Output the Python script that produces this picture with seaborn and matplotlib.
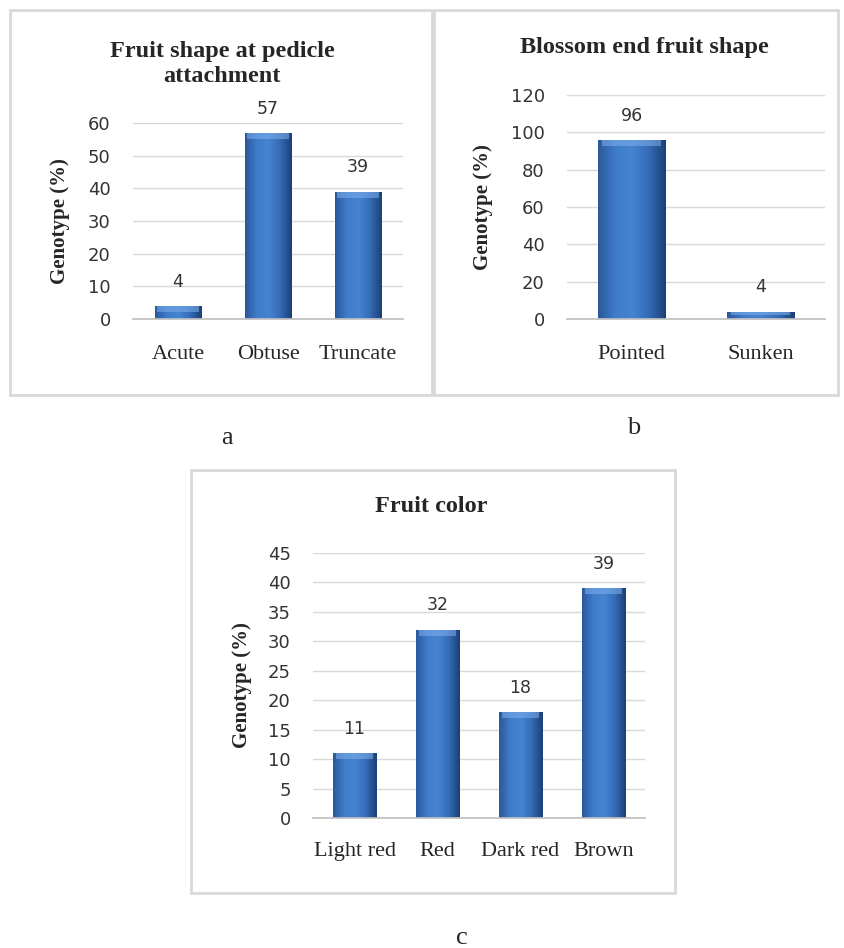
import numpy as np
import pandas as pd
import matplotlib.pyplot as plt
import seaborn as sns
from matplotlib.colors import LinearSegmentedColormap
from matplotlib.patches import Rectangle

# data
pedicle_cats = ['Acute', 'Obtuse', 'Truncate']
pedicle_vals = [4, 57, 39]
blossom_cats = ['Pointed', 'Sunken']
blossom_vals = [96, 4]
color_cats = ['Light red', 'Red', 'Dark red', 'Brown']
color_vals = [11, 32, 18, 39]

sns.set_theme(style='white')
plt.rcParams['font.family'] = ['Liberation Serif', 'DejaVu Serif']

W, H = 844, 948
fig = plt.figure(figsize=(W / 100, H / 100), dpi=100)

bar_cmap = LinearSegmentedColormap.from_list(
    'bevel', ['#2b589c', '#3f7cca', '#4684d2', '#356cb8', '#1c4077'])


def px(x0, y0, x1, y1):
    # pixel box (top-left origin) -> figure fraction
    return [x0 / W, 1 - y1 / H, (x1 - x0) / W, (y1 - y0) / H]


def frame(x0, y0, x1, y1):
    fig.patches.append(Rectangle((x0 / W, 1 - y1 / H), (x1 - x0) / W, (y1 - y0) / H,
                                 transform=fig.transFigure, fill=False,
                                 edgecolor='#d9d9d9', linewidth=2))


def panel(box, cats, vals, ymax, step, title, title_xy, ylab_x, xpad):
    ax = fig.add_axes(px(*box))
    df = pd.DataFrame({'cat': cats, 'val': vals})
    sns.barplot(data=df, x='cat', y='val', ax=ax, color='#3a72be', width=0.52,
                edgecolor='#1c4077', linewidth=0.7)
    ax.set_xlim(-0.5, len(cats) - 0.5)
    ax.set_ylim(0, ymax)
    # gradient fill + light top bevel, clipped to each bar
    grad = np.linspace(0, 1, 64).reshape(1, -1)
    bevel = 6 * ymax / (box[3] - box[1])  # ~6 px in data units
    for p in ax.patches:
        x, y, w, h = p.get_x(), p.get_y(), p.get_width(), p.get_height()
        im = ax.imshow(grad, cmap=bar_cmap, aspect='auto', interpolation='bicubic',
                       extent=(x, x + w, y, y + h), zorder=p.get_zorder() + 0.1)
        im.set_clip_path(p)
        band = Rectangle((x + w * 0.06, y + h - min(bevel, h * 0.5)), w * 0.88,
                         min(bevel, h * 0.5), facecolor='#7fb0ec', edgecolor='none',
                         alpha=0.55, zorder=p.get_zorder() + 0.2)
        ax.add_patch(band)
    ticks = np.arange(0, ymax + 1, step)
    ax.set_yticks(ticks, labels=[str(t) for t in ticks], fontfamily='DejaVu Sans',
                  fontsize=13, color='#333333')
    ax.set_xticks(range(len(cats)), labels=cats, fontsize=16, color='#262626')
    ax.tick_params(axis='both', length=0)
    ax.tick_params(axis='y', pad=16)
    ax.tick_params(axis='x', pad=xpad)
    ax.yaxis.grid(True, color='#d9d9d9', linewidth=1)
    ax.set_axisbelow(True)
    for s in ['top', 'right', 'left']:
        ax.spines[s].set_visible(False)
    ax.spines['bottom'].set_color('#c0c0c0')
    ax.set_xlabel('')
    ax.set_ylabel('Genotype (%)', fontsize=15, fontweight='bold', color='#262626')
    ax.yaxis.label.set_va('center')
    ax.yaxis.set_label_coords(ylab_x, 0.5)
    ax.bar_label(ax.containers[0], padding=11, fontsize=12.5, fontfamily='DejaVu Sans',
                 color='#333333')
    fig.text(title_xy[0] / W, 1 - title_xy[1] / H, title, ha='center', va='center',
             fontsize=17.5, fontweight='bold', linespacing=1.2)
    return ax


frame(10, 10, 432, 395)
frame(434, 10, 838, 395)
frame(191, 470, 675, 893)

panel((133, 123, 403, 319), pedicle_cats, pedicle_vals, 60, 10,
      'Fruit shape at pedicle\nattachment', (222, 64), -0.27, 19)
panel((567, 95, 825, 319), blossom_cats, blossom_vals, 120, 20,
      'Blossom end fruit shape', (644, 48), -0.326, 19)
panel((313, 553, 645, 818), color_cats, color_vals, 45, 5,
      'Fruit color', (431, 507), -0.214, 17)

for lab, x, y in [('a', 227, 438), ('b', 634, 428), ('c', 462, 938)]:
    fig.text(x / W, 1 - y / H, lab, ha='center', va='center', fontsize=19)

fig.savefig('out.png', dpi=100)
